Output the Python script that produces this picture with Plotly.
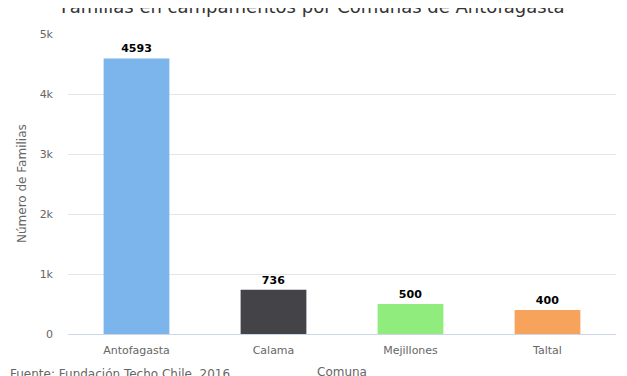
import plotly.graph_objects as go

comunas = ["Antofagasta", "Calama", "Mejillones", "Taltal"]
familias = [4593, 736, 500, 400]
colores = ["#7cb5ec", "#434348", "#90ed7d", "#f7a35c"]
tick_vals = [0, 1000, 2000, 3000, 4000, 5000]
tick_text = ["0", "1k", "2k", "3k", "4k", "5k"]

FONT = "DejaVu Sans"

fig = go.Figure(go.Bar(
    x=comunas, y=familias, marker=dict(color=colores, line=dict(width=0)),
    text=["<b>%d</b>" % v for v in familias], textposition="outside",
    textfont=dict(family=FONT, size=11, color="#000000"),
    cliponaxis=False, showlegend=False,
))

# the page body adds an 8px offset; margins compensate for it
fig.update_layout(
    width=627, height=376,
    margin=dict(l=60, r=19, t=26, b=50),
    plot_bgcolor="white", paper_bgcolor="white",
    bargap=0.52,
    font=dict(family=FONT, color="#666666", size=11),
    xaxis=dict(showgrid=False, showline=True, linecolor="#ccd6eb", linewidth=1,
               ticks="", ticklabelstandoff=6, tickfont=dict(size=11, color="#666666")),
    yaxis=dict(range=[0, 5000], tickvals=tick_vals, ticktext=tick_text,
               gridcolor="#e6e6e6", gridwidth=1, zeroline=False, showline=False,
               ticks="", ticklabelstandoff=14,
               tickfont=dict(size=11, color="#666666")),
    annotations=[
        dict(text="Familias en campamentos por Comunas de Antofagasta", xref="paper", yref="paper",
             x=245 / 548, y=1 + 28 / 300, xanchor="center", yanchor="middle", showarrow=False,
             font=dict(size=18, color="#333333", family=FONT)),
        dict(text="Número de Familias", xref="paper", yref="paper", x=-46 / 548, y=0.5,
             textangle=-90, xanchor="center", yanchor="middle", showarrow=False,
             font=dict(size=12, color="#666666", family=FONT)),
        dict(text="Comuna", xref="paper", yref="paper", x=0.5, y=-38 / 300,
             xanchor="center", yanchor="middle", showarrow=False,
             font=dict(size=12, color="#666666", family=FONT)),
        dict(text="Fuente: Fundación Techo Chile, 2016", xref="paper", yref="paper",
             x=-60 / 548, y=-39.5 / 300, xanchor="left", yanchor="middle", showarrow=False,
             font=dict(size=12, color="#666666", family=FONT)),
    ],
)

fig.write_html("out.html")
